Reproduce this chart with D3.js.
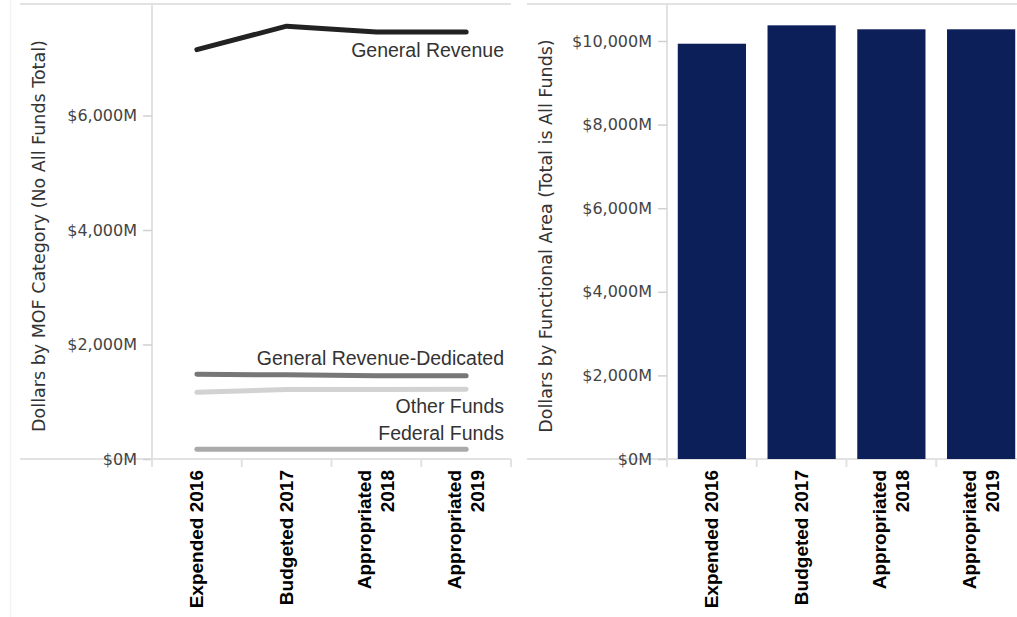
<!DOCTYPE html>
<html>
<head>
<meta charset="utf-8">
<script src="https://cdn.jsdelivr.net/npm/d3@7"></script>
<style>
  body { margin: 0; background: #fff; }
  svg { display: block; }
  .tick-lbl { font-family: "DejaVu Sans", sans-serif; font-size: 16px; fill: #444; }
  .ytitle { font-family: "DejaVu Sans", sans-serif; font-size: 17.5px; fill: #333; }
  .xlbl { font-family: "Liberation Sans", Arial, sans-serif; font-size: 19px; font-weight: bold; fill: #000; }
  .serlbl { font-family: "Liberation Sans", Arial, sans-serif; font-size: 19.5px; fill: #333; }
</style>
</head>
<body>
<svg width="1017" height="617"></svg>
<script>
// categories and tick labels
const years = ["Expended 2016", "Budgeted 2017", "Appropriated 2018", "Appropriated 2019"];
const yearLines = [["Expended 2016"], ["Budgeted 2017"], ["Appropriated", "2018"], ["Appropriated", "2019"]];
const leftTicks = [0, 2000, 4000, 6000];
const rightTicks = [0, 2000, 4000, 6000, 8000, 10000];

// values in $M, method of financing
const generalRevenue = [7150, 7560, 7460, 7460];
const grDedicated = [1480, 1470, 1455, 1455];
const otherFunds = [1165, 1215, 1215, 1220];
const federalFunds = [170, 170, 170, 170];
// all funds total
const allFunds = [9935, 10375, 10280, 10280];

const series = [
  {name: "General Revenue", values: generalRevenue, color: "#222", dy: 25},
  {name: "General Revenue-Dedicated", values: grDedicated, color: "#777", dy: -11},
  {name: "Other Funds", values: otherFunds, color: "#d2d2d2", dy: 24},
  {name: "Federal Funds", values: federalFunds, color: "#aaa", dy: -9}
];

var svg = d3.select("svg");
var fmt = d => "$" + d3.format(",")(d) + "M";
var frame = "#e2e2e2";
var base = 459;

// faint outer edge
svg.append("line").attr("x1", 10.5).attr("x2", 10.5).attr("y1", 0).attr("y2", 617)
  .attr("stroke", "#f3f3f3").attr("stroke-width", 1.5);

function panel(x0, x1, plotLeft, y, ticks, title, titleX) {
  var g = svg.append("g");
  // frame lines
  g.append("line").attr("x1", x0).attr("x2", x1).attr("y1", 4).attr("y2", 4)
    .attr("stroke", frame).attr("stroke-width", 2);
  g.append("line").attr("x1", x0).attr("x2", x1).attr("y1", base).attr("y2", base)
    .attr("stroke", frame).attr("stroke-width", 2);
  g.append("line").attr("x1", plotLeft).attr("x2", plotLeft).attr("y1", 4).attr("y2", 467)
    .attr("stroke", frame).attr("stroke-width", 2);

  var ax = g.append("g").attr("transform", "translate(" + plotLeft + ",0)")
    .call(d3.axisLeft(y).tickValues(ticks).tickFormat(fmt).tickSize(9).tickPadding(6));
  ax.select(".domain").remove();
  ax.selectAll(".tick line").attr("stroke", "#d0d0d0").attr("stroke-width", 1.5);
  ax.selectAll(".tick text").attr("class", "tick-lbl").attr("fill", null)
    .attr("font-size", null).attr("font-family", null);

  g.append("text").attr("class", "ytitle")
    .attr("transform", "translate(" + titleX + ",236) rotate(-90)")
    .attr("text-anchor", "middle").text(title);
  return g;
}

function xLabels(g, band) {
  var bounds = d3.range(years.length + 1).map(i => band.range()[0] + i * band.step());
  g.selectAll(".bt").data(bounds).enter().append("line")
    .attr("x1", d => d).attr("x2", d => d).attr("y1", base).attr("y2", 467)
    .attr("stroke", frame).attr("stroke-width", 2);
  years.forEach((c, i) => {
    var cx = band(c) + band.bandwidth() / 2;
    var lines = yearLines[i];
    lines.forEach((t, j) => {
      var off = (j - (lines.length - 1) / 2) * 23;
      g.append("text").attr("class", "xlbl")
        .attr("transform", "translate(" + (cx + off + 6.5) + ",470) rotate(-90)")
        .attr("text-anchor", "end").text(t);
    });
  });
}

// left panel: lines by MOF category
var yL = d3.scaleLinear().domain([0, 6000]).range([base, 115.5]);
var xL = d3.scaleBand().domain(years).range([152, 511]);
var gL = panel(20, 511, 152, yL, leftTicks, "Dollars by MOF Category (No All Funds Total)", 45);
xLabels(gL, xL);

var line = d3.line()
  .x((d, i) => xL(years[i]) + xL.bandwidth() / 2)
  .y(d => yL(d));

series.slice().reverse().forEach(s => {
  gL.append("path").attr("d", line(s.values))
    .attr("fill", "none").attr("stroke", s.color).attr("stroke-width", 5)
    .attr("stroke-linecap", "round").attr("stroke-linejoin", "round");
});
series.forEach(s => {
  gL.append("text").attr("class", "serlbl")
    .attr("x", 504).attr("y", yL(s.values[s.values.length - 1]) + s.dy)
    .attr("text-anchor", "end").text(s.name);
});

// right panel: bars of all funds
var yR = d3.scaleLinear().domain([0, 10000]).range([base, 41]);
var xR = d3.scaleBand().domain(years).range([667, 1026]).paddingInner(0.24).paddingOuter(0.12);
var xRb = d3.scaleBand().domain(years).range([667, 1026]);
var gR = panel(527, 1017, 667, yR, rightTicks, "Dollars by Functional Area (Total is All Funds)", 552);

gR.selectAll(".bar").data(allFunds).enter().append("rect")
  .attr("x", (d, i) => xR(years[i]))
  .attr("width", xR.bandwidth())
  .attr("y", d => yR(d))
  .attr("height", d => base - yR(d))
  .attr("fill", "#0d1f59");
xLabels(gR, xRb);
</script>
</body>
</html>
